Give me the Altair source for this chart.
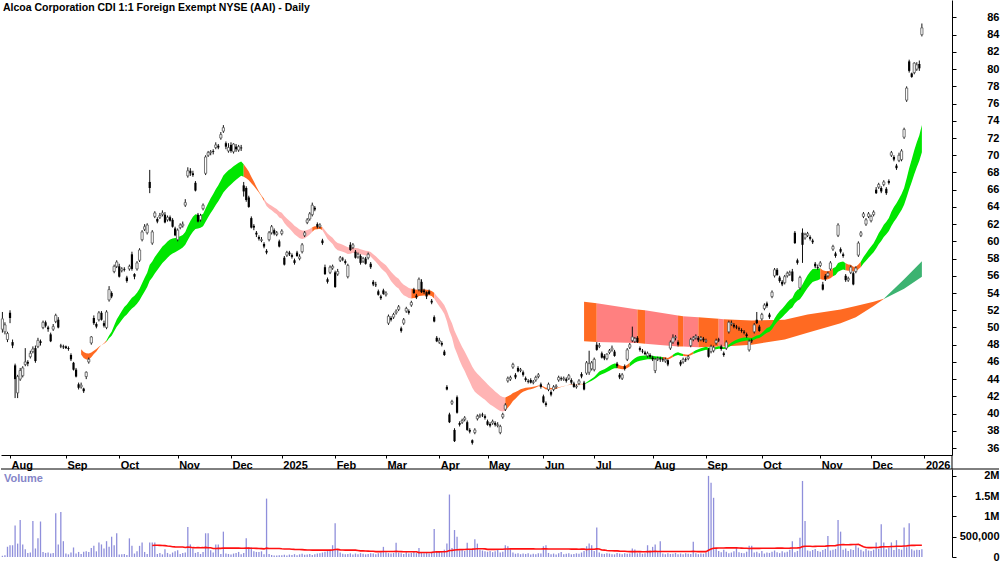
import altair as alt
import pandas as pd
import numpy as np

# ---------------- daily bars (open, high, low, close) per month ----------------
jul24 = [(49.8,51.8,49.4,51.0),(49.5,50.6,49.2,50.3),(48.6,49.5,48.3,49.3)]
aug24 = [(51.7,52.0,50.5,51.1),(48.3,48.6,47.6,47.9),(45.6,45.8,41.8,44.0),(42.4,44.5,41.8,44.3),
         (44.0,45.3,43.8,45.0),(44.4,45.5,44.2,45.3),(45.7,47.6,45.5,46.0),(46.0,46.2,45.5,45.8),
         (46.6,47.3,46.4,47.0),(47.2,47.8,47.0,47.5),(47.6,47.9,45.9,46.1),(47.8,48.8,47.6,48.5),
         (48.4,48.6,47.9,48.2),(50.0,50.8,49.8,50.6),(50.6,50.8,50.0,50.2),(50.0,50.2,49.5,49.8),
         (49.2,49.4,48.3,48.4),(49.8,50.4,49.6,50.1),(50.7,51.6,50.5,51.4),(50.9,51.2,49.9,50.0),
         (47.9,48.1,47.6,47.8),(47.8,48.0,47.5,47.7)]
sep24 = [(47.8,47.9,47.5,47.6),(47.6,47.8,47.3,47.5),(46.8,47.0,46.1,46.3),(45.9,46.0,45.0,45.1),
         (45.1,45.3,44.2,44.3),(43.4,43.6,42.8,43.0),(43.1,43.6,42.9,43.3),(42.9,43.0,42.4,42.6),
         (44.3,44.9,44.0,44.8),(46.0,46.5,45.8,46.3),(48.2,49.0,48.0,48.9),(51.1,51.4,50.3,50.5),
         (50.4,50.6,49.9,50.1),(50.9,51.9,50.7,51.7),(51.7,51.9,50.8,50.9),(50.5,50.8,50.0,50.2),
         (50.0,52.0,49.8,51.8),(53.2,54.8,53.0,54.4),(54.0,54.2,53.4,53.6),(56.5,57.3,56.3,57.1),
         (57.1,57.8,56.9,57.6)]
oct24 = [(57.1,57.4,55.8,55.9),(56.6,57.0,56.4,56.8),(56.8,57.0,56.5,56.7),(55.8,56.0,55.2,55.4),
         (56.8,57.3,56.6,57.1),(58.5,58.8,56.6,56.8),(56.2,56.3,55.6,55.9),(56.8,57.7,56.6,57.5),
         (57.8,59.2,57.6,59.0),(60.2,61.3,60.0,61.1),(61.4,62.0,61.2,61.7),(61.0,62.1,60.8,61.9),
         (66.9,68.3,65.6,66.2),(59.8,61.3,59.6,61.1),(62.9,63.5,62.7,63.3),(62.6,62.8,62.1,62.3),
         (62.8,63.3,62.6,63.0),(63.1,63.6,62.9,63.3),(63.1,63.4,62.1,62.2),(62.5,63.0,62.3,62.8),
         (62.8,63.0,62.3,62.4),(62.5,62.7,61.6,61.7),(61.5,61.7,60.6,60.7)]
nov24 = [(60.2,61.5,60.0,61.3),(61.6,62.1,61.4,61.9),(61.8,62.3,61.6,62.0),(64.2,64.9,64.0,64.5),
         (67.6,68.6,67.4,68.2),(68.2,68.5,67.6,67.9),(67.9,68.2,67.5,67.7),(66.8,67.0,65.8,65.9),
         (63.1,63.3,62.2,62.3),(62.5,63.2,62.3,63.0),(63.8,64.4,63.6,64.2),(67.9,70.0,67.7,69.8),
         (70.0,70.5,69.8,70.3),(70.3,70.6,70.0,70.4),(70.5,70.7,70.1,70.4),(70.9,71.5,70.7,71.2),
         (71.1,71.3,70.7,70.9),(72.0,72.7,71.8,72.4),(72.8,73.5,72.6,73.2),(71.4,71.6,70.7,71.0),
         (70.5,71.4,70.3,70.9)]
dec24 = [(71.2,71.5,70.3,70.5),(70.4,71.4,70.2,71.3),(71.0,71.3,70.4,70.7),(70.6,71.2,70.4,71.0),
         (70.9,71.2,70.5,70.8),(66.5,66.9,65.2,65.8),(66.2,66.4,64.6,64.8),(65.1,65.3,63.9,64.0),
         (62.7,62.9,61.5,61.6),(61.8,62.0,61.3,61.6),(61.0,61.2,60.5,60.8),(60.5,60.7,60.1,60.3),
         (60.1,60.5,59.9,60.2),(59.7,59.9,59.2,59.4),(58.9,59.1,58.5,58.7),(60.2,61.2,60.0,61.0),
         (61.0,61.9,60.8,61.7),(61.3,61.5,60.7,60.9),(60.8,61.2,60.6,61.0),(60.0,60.2,59.3,59.4)]
jan25 = [(60.9,61.4,60.7,61.2),(58.1,58.3,57.2,57.3),(58.4,58.9,58.2,58.7),(58.7,58.9,58.3,58.5),
         (58.4,58.6,58.0,58.2),(57.8,58.0,57.3,57.5),(58.7,58.9,58.2,58.3),(58.0,58.5,57.8,58.2),
         (58.8,59.8,58.6,59.6),(60.7,61.2,60.5,61.0),(62.2,62.7,62.0,62.5),(62.6,63.4,62.4,63.2),
         (63.1,64.5,62.9,64.2),(63.9,64.1,63.5,63.7),(62.0,62.2,61.5,61.7),(61.7,62.1,61.5,61.9),
         (60.1,60.3,59.6,59.8),(57.0,57.3,56.1,56.2),(55.6,55.8,55.1,55.3),(56.4,57.2,56.2,57.0),
         (56.9,57.3,56.7,57.1)]
feb25 = [(56.4,56.6,54.6,54.7),(56.2,56.8,56.0,56.5),(57.8,58.3,57.6,58.1),(58.0,58.2,57.7,57.9),
         (57.7,57.9,57.3,57.5),(55.9,57.4,55.7,57.2),(59.6,59.9,58.9,59.0),(59.3,59.8,59.1,59.6),
         (58.8,59.0,58.0,58.1),(58.2,58.7,58.0,58.5),(58.3,58.5,57.3,57.5),(57.7,58.2,57.5,58.0),
         (58.0,58.2,57.3,57.4),(58.1,58.7,57.9,58.5),(57.4,57.6,56.8,57.0),(55.3,55.5,54.8,55.0),
         (55.0,55.3,54.7,54.9),(54.2,54.4,53.7,53.8),(53.6,53.8,53.2,53.4),(54.3,54.5,53.8,53.9)]
mar25 = [(53.8,54.2,53.6,54.0),(50.5,51.5,50.3,51.3),(51.1,51.3,50.7,50.9),(51.2,51.7,51.0,51.5),
         (51.7,52.1,51.5,51.9),(52.1,52.6,51.9,52.4),(49.9,50.1,49.4,49.6),(50.5,51.1,50.3,50.9),
         (51.9,52.4,51.7,52.2),(51.9,52.1,51.5,51.7),(52.6,53.1,52.4,52.9),(54.4,54.6,53.9,54.0),
         (53.7,53.9,53.3,53.5),(54.4,55.8,54.2,55.6),(55.3,55.6,54.0,54.1),(54.3,54.5,53.9,54.1),
         (54.1,54.2,53.3,53.6),(54.2,54.4,53.8,53.9),(53.1,53.3,52.7,52.9),(51.2,51.4,50.6,50.7),
         (48.8,49.0,48.3,48.4)]
apr25 = [(48.3,48.8,48.1,48.5),(48.2,48.4,47.8,48.0),(47.2,47.4,46.7,46.8),(43.1,43.3,42.7,42.8),
         (39.9,40.1,38.9,39.0),(41.2,41.6,41.0,41.4),(38.1,38.3,36.7,36.8),(41.9,42.1,40.0,40.1),
         (38.9,39.1,38.5,38.7),(39.0,39.4,38.8,39.2),(39.3,39.7,39.1,39.5),(39.0,39.2,38.0,38.1),
         (38.1,38.3,37.7,37.9),(36.9,37.0,36.4,36.6),(37.8,38.3,37.6,38.1),(39.4,39.9,39.2,39.7),
         (39.7,40.0,39.5,39.8),(39.9,40.1,39.6,39.8),(39.7,39.9,39.3,39.5)]
may25 = [(39.1,39.3,38.6,38.7),(38.8,39.0,38.4,38.6),(38.9,39.3,38.7,39.1),(38.9,39.1,38.5,38.7),
         (38.6,39.0,38.4,38.7),(37.8,38.7,37.6,38.5),(39.6,40.1,39.4,39.9),(40.5,41.2,40.3,41.0),
         (43.8,44.3,43.6,44.1),(44.0,44.4,43.8,44.2),(45.4,45.9,45.2,45.7),(44.5,44.7,44.0,44.2),
         (45.3,45.5,44.8,44.9),(45.0,45.3,44.8,45.1),(44.8,45.0,44.3,44.5),(44.1,44.3,43.7,43.9),
         (43.8,44.0,43.5,43.7),(43.9,44.1,43.5,43.6),(43.6,43.9,43.4,43.7),(43.9,44.4,43.7,44.2),
         (44.3,44.7,44.1,44.5),(43.4,43.6,42.9,43.1)]
jun25 = [(42.0,42.2,41.2,41.3),(41.2,41.4,40.8,41.0),(42.8,43.6,42.6,43.4),(42.5,42.7,42.0,42.2),
         (42.8,43.3,42.6,43.1),(43.1,43.4,42.9,43.2),(43.9,44.4,43.7,44.2),(44.1,44.3,43.8,44.0),
         (44.0,44.3,43.8,44.1),(44.0,44.2,43.6,43.8),(44.1,44.6,43.9,44.4),(43.9,44.1,43.4,43.6),
         (43.5,43.7,43.0,43.1),(43.1,43.4,42.9,43.2),(43.5,44.0,43.3,43.8),(44.6,44.8,44.1,44.3),
         (43.6,43.8,42.7,42.8),(44.7,46.1,44.5,45.9),(44.8,47.3,44.5,45.8),(45.2,46.1,45.0,45.9)]
jul25 = [(45.1,46.5,44.9,46.3),(48.0,48.3,47.3,47.4),(47.8,48.2,47.6,47.9),(47.0,47.2,46.4,46.5),
         (46.7,46.9,46.2,46.4),(46.4,47.0,46.2,46.9),(47.1,47.5,46.9,47.3),(47.4,47.9,47.2,47.6),
         (47.2,47.4,46.6,46.7),(45.8,46.0,45.3,45.5),(44.5,44.7,44.0,44.2),(44.1,44.7,43.9,44.5),
         (45.5,45.7,45.0,45.2),(46.3,47.6,46.1,47.4),(47.7,48.2,47.5,48.0),(48.5,50.1,48.3,48.9),
         (48.4,48.9,48.2,48.7),(48.8,49.0,48.2,48.3),(47.6,47.8,47.2,47.4),(47.3,47.5,47.0,47.2),
         (47.1,47.3,46.8,46.9),(46.7,47.2,46.5,47.0),(46.8,47.0,46.4,46.6)]
aug25 = [(46.5,46.7,46.1,46.3),(45.0,46.5,44.7,46.3),(46.3,46.6,46.1,46.4),(46.4,46.6,46.0,46.3),
         (46.3,46.5,46.0,46.2),(46.1,46.5,45.9,46.3),(46.2,46.3,45.5,45.7),(47.6,48.5,47.4,48.3),
         (48.3,49.2,48.1,48.8),(48.8,49.1,48.5,48.9),(48.3,48.5,47.8,48.0),(46.0,46.2,45.5,45.7),
         (46.0,46.5,45.8,46.3),(46.3,46.5,46.0,46.2),(46.4,46.8,46.2,46.6),(47.9,48.8,47.7,48.6),
         (48.6,49.0,48.4,48.8),(48.8,49.2,48.6,49.0),(48.8,49.0,48.3,48.5),(48.6,49.0,48.4,48.8),
         (48.7,48.9,48.3,48.5)]
sep25 = [(48.4,48.7,48.2,48.5),(47.4,47.6,46.5,46.6),(47.2,48.0,47.0,47.8),(47.3,47.9,47.1,47.7),
         (48.2,48.7,48.0,48.5),(48.6,48.8,48.3,48.5),(47.8,48.0,47.3,47.5),(47.0,47.2,46.6,46.8),
         (47.6,48.5,47.4,48.3),(49.5,50.8,49.3,50.6),(50.4,50.8,50.2,50.5),(50.3,50.5,49.9,50.1),
         (50.1,50.3,49.8,50.0),(49.9,50.1,49.6,49.8),(49.7,49.9,49.4,49.6),(49.5,49.7,49.2,49.4),
         (49.2,49.4,48.8,49.0),(47.4,48.6,47.2,48.4),(48.5,48.7,48.2,48.4),(49.5,50.5,49.3,50.3),
         (50.9,51.8,50.4,50.5),(50.1,50.3,49.5,49.6)]
oct25 = [(51.0,51.7,50.8,51.5),(52.2,52.8,52.0,52.6),(52.8,53.0,52.3,52.5),(51.5,51.7,51.0,51.2),
         (53.6,54.3,53.4,54.1),(56.0,56.9,55.8,56.7),(56.7,56.9,56.0,56.1),(55.8,56.0,55.2,55.4),
         (55.3,55.5,54.8,55.0),(55.2,56.1,55.0,55.9),(56.0,56.5,55.8,56.3),(56.2,56.6,56.0,56.4),
         (56.5,56.8,55.3,55.4),(61.0,61.2,59.7,59.8),(57.8,58.0,57.3,57.5),(54.6,56.0,54.4,55.8),
         (61.0,61.5,57.5,59.6),(60.4,61.0,60.2,60.8),(60.7,61.1,60.5,60.9),(60.5,60.7,60.1,60.3),
         (60.1,60.3,59.7,59.9),(57.4,57.6,56.9,57.1),(57.0,57.3,56.7,56.9)]
nov25 = [(57.2,57.7,57.0,57.5),(55.0,55.3,54.3,54.4),(56.0,56.2,55.4,55.6),(56.0,56.5,55.8,56.3),
         (56.8,57.7,56.6,57.5),(59.1,59.6,58.9,59.4),(58.6,58.8,58.1,58.3),(60.7,62.1,60.5,61.9),
         (59.1,59.3,58.6,58.8),(58.5,58.7,58.1,58.3),(56.0,56.2,55.3,55.5),(55.5,55.9,55.3,55.7),
         (56.4,57.2,56.2,57.0),(56.3,56.5,54.9,55.0),(56.5,57.1,56.3,56.9),(58.4,60.0,58.2,59.8),
         (60.7,61.2,60.5,61.0),(62.9,63.4,62.7,63.2),(62.0,62.7,61.8,62.5),(62.9,63.4,62.7,63.2)]
dec25 = [(62.4,63.1,62.2,62.9),(63.1,63.6,62.9,63.4),(66.0,66.3,65.5,65.6),(66.3,66.8,66.1,66.6),
         (66.2,66.4,65.6,65.8),(66.6,67.1,66.4,66.9),(66.1,66.3,65.4,65.6),(67.0,67.2,66.6,66.8),
         (70.0,70.5,69.8,70.3),(69.8,70.0,69.3,69.5),(68.8,69.0,68.3,68.5),(69.4,70.3,69.2,70.0),
         (69.5,70.7,69.3,70.5),(72.1,73.2,71.9,73.0),(76.4,78.0,76.2,77.8),(80.9,81.1,79.6,79.8),
         (79.5,79.6,79.0,79.1),(79.6,80.8,79.4,80.7),(80.0,80.8,79.8,80.5),(80.6,81.0,79.8,80.1),
         (84.0,85.3,83.8,84.8)]

# ---------------- daily volume (thousands) per month ----------------
vol_jul24 = [30, 45, 250]
vol_aug24 = [290, 290, 775, 330, 915, 310, 190, 100, 110, 890, 210, 460, 875, 125, 100, 110, 85, 100, 1080, 310, 1110, 390]
vol_sep24 = [85, 65, 110, 235, 85, 125, 75, 130, 140, 125, 225, 275, 140, 360, 310, 210, 390, 250, 500, 290, 585]
vol_oct24 = [60, 65, 75, 50, 460, 275, 85, 140, 275, 360, 125, 75, 360, 360, 360, 75, 100, 65, 190, 100, 65, 110, 140]
vol_nov24 = [165, 75, 100, 110, 740, 310, 210, 100, 125, 75, 125, 585, 585, 165, 110, 310, 310, 75, 625, 85, 75]
vol_dec24 = [60, 85, 100, 125, 65, 100, 460, 235, 235, 140, 125, 125, 140, 65, 1440, 75, 50, 40, 35, 45]
vol_jan25 = [45, 55, 40, 60, 50, 70, 45, 65, 80, 55, 60, 75, 50, 65, 85, 90, 110, 130, 145, 180, 290]
vol_feb25 = [830, 190, 110, 80, 65, 75, 90, 60, 85, 70, 95, 80, 65, 75, 90, 85, 70, 95, 110, 250]
vol_mar25 = [120, 95, 85, 100, 350, 110, 90, 75, 120, 85, 100, 130, 95, 225, 110, 90, 105, 85, 120, 690, 150]
vol_apr25 = [150, 130, 180, 330, 1540, 225, 665, 500, 160, 190, 150, 350, 200, 170, 440, 330, 180, 160, 140]
vol_may25 = [130, 150, 120, 140, 170, 110, 130, 290, 265, 190, 110, 80, 90, 70, 85, 75, 95, 60, 80, 70, 90, 85]
vol_jun25 = [265, 290, 100, 70, 85, 60, 90, 125, 70, 80, 95, 65, 75, 90, 80, 110, 150, 265, 330, 290]
vol_jul25 = [150, 725, 110, 80, 75, 90, 85, 70, 65, 100, 85, 70, 95, 80, 85, 210, 185, 90, 110, 80, 95, 290, 160]
vol_aug25 = [250, 310, 120, 390, 85, 70, 90, 75, 80, 100, 65, 85, 70, 90, 80, 75, 375, 95, 70, 85, 80]
vol_sep25 = [110, 2000, 1830, 1460, 210, 150, 120, 180, 130, 95, 110, 140, 225, 120, 100, 90, 130, 275, 275, 110, 130, 90]
vol_oct25 = [150, 85, 110, 100, 130, 160, 120, 95, 140, 110, 130, 180, 390, 120, 150, 475, 1875, 890, 160, 140, 170, 200, 150]
vol_nov25 = [130, 170, 200, 515, 160, 180, 200, 915, 625, 180, 210, 150, 190, 170, 290, 230, 180, 140, 200, 160]
vol_dec25 = [150, 180, 360, 200, 810, 360, 190, 230, 360, 170, 415, 200, 180, 725, 240, 830, 190, 160, 180, 170, 190]

# month labels placed at the first bar of each month (and 2026 at the end)
month_labels = ["Aug", "Sep", "Oct", "Nov", "Dec", "2025", "Feb", "Mar", "Apr", "May",
                "Jun", "Jul", "Aug", "Sep", "Oct", "Nov", "Dec", "2026"]

ribbon_start = [31, 41, 95, 103, 122, 126, 161, 170, 198, 229, 242, 247, 260, 264, 268, 272, 322, 327, 332, 338]
ribbon_state = ["mixed", "up", "mixed", "down", "mixed", "down", "mixed", "down", "mixed", "up",
                "mixed", "up", "mixed", "up", "mixed", "up", "mixed", "up", "mixed", "up"]

# long-term band edges (bar index, faster line, slower line)
cloud_idx  = [229, 234, 250, 253, 266, 268, 274, 282, 284, 295, 308, 317, 330, 336, 343, 347, 355, 362]
cloud_fast = [48.4, 48.3, 48.2, 48.1, 47.8, 47.8, 47.7, 47.8, 47.8, 48.0, 48.6, 49.4, 50.5, 51.2, 52.5, 53.3, 55.6, 57.7]
cloud_slow = [53.0, 52.8, 52.1, 52.0, 51.4, 51.3, 51.2, 51.0, 50.95, 50.8, 50.9, 51.5, 52.1, 52.5, 53.0, 53.35, 54.5, 55.9]
cloud_seg_start = [229, 234, 250, 253, 266, 268, 274, 282, 284, 347]
cloud_seg_end   = [234, 250, 253, 266, 268, 274, 282, 284, 347, 362]
cloud_seg_state = ["c_mixed", "c_down", "c_mixed", "c_down", "c_mixed", "c_down", "c_mixed", "c_down", "c_mixed", "c_up"]

# ---------------- build tables ----------------
months = [jul24, aug24, sep24, oct24, nov24, dec24, jan25, feb25, mar25, apr25, may25, jun25,
          jul25, aug25, sep25, oct25, nov25, dec25]
vols = [vol_jul24, vol_aug24, vol_sep24, vol_oct24, vol_nov24, vol_dec24, vol_jan25, vol_feb25,
        vol_mar25, vol_apr25, vol_may25, vol_jun25, vol_jul25, vol_aug25, vol_sep25, vol_oct25,
        vol_nov25, vol_dec25]

bars = [b for m in months for b in m]
vol_all = [v for m in vols for v in m]
n = len(bars)
df = pd.DataFrame(bars, columns=["o", "h", "l", "c"])
df["i"] = np.arange(n)
df["vol"] = np.array(vol_all[:n], dtype=float) * 1000
df["lo"] = df[["o", "c"]].min(axis=1)
df["hi"] = df[["o", "c"]].max(axis=1)
df["dir"] = np.where(df["c"] >= df["o"], "up", "down")
df["vma"] = df["vol"].rolling(60).mean()

tick_vals = [int(v) for v in np.cumsum([len(m) for m in months])]
label_expr = "''"
for v, lab in reversed(list(zip(tick_vals, month_labels))):
    label_expr = f"datum.value == {v} ? '{lab}' : ({label_expr})"

# trend ribbon from exponential averages of the closes
fast = df["c"].ewm(span=20, adjust=False).mean()
slow = df["c"].ewm(span=30, adjust=False).mean()
rows = []
for k, s in enumerate(ribbon_start):
    e = ribbon_start[k + 1] if k + 1 < len(ribbon_start) else n - 1
    for i in range(s, e + 1):
        rows.append({"i": i, "lo": min(fast[i], slow[i]), "hi": max(fast[i], slow[i]),
                     "seg": f"r{k}", "state": ribbon_state[k]})
ribbon = pd.DataFrame(rows)

crow = []
for k, (s, e) in enumerate(zip(cloud_seg_start, cloud_seg_end)):
    for idx, a, b in zip(cloud_idx, cloud_fast, cloud_slow):
        if s <= idx <= e:
            crow.append({"i": idx, "lo": min(a, b), "hi": max(a, b), "seg": f"c{k}",
                         "state": cloud_seg_state[k]})
cloud = pd.DataFrame(crow)

FONT = "Liberation Sans, Arial, sans-serif"
W = 951
xscale = alt.Scale(domain=[-0.551, 373.86], nice=False, zero=False, padding=0)
pscale = alt.Scale(domain=[35.19, 88.03], nice=False, zero=False, padding=0)
cscale = alt.Scale(domain=["up", "mixed", "down", "c_up", "c_mixed", "c_down"],
                   range=["#00e600", "#ff6a22", "#ffb4b4", "#3cb371", "#ff6a22", "#ff8080"])

xaxis = alt.Axis(values=tick_vals, labelExpr=label_expr, tickSize=3, labelAlign="left",
                 labelBaseline="top", labelPadding=1, labelOffset=1, title=None,
                 labelOverlap=False, labelFlush=False, grid=False, labelFont=FONT,
                 labelFontSize=11, labelFontWeight="bold", labelColor="black")
yaxis = alt.Axis(orient="right", values=list(range(36, 88, 2)), tickSize=4, labelAlign="right",
                 labelPadding=43, title=None, grid=False, labelFlush=False, labelOverlap=False,
                 labelFont=FONT, labelFontSize=11, labelFontWeight="bold", labelColor="black",
                 labelBaseline="middle")

X = alt.X("i:Q", scale=xscale, axis=xaxis)

def Y(field):
    return alt.Y(field, scale=pscale, axis=yaxis)

cloud_layer = alt.Chart(cloud).mark_area(opacity=1).encode(
    x=X, y=Y("lo:Q"), y2="hi:Q",
    color=alt.Color("state:N", scale=cscale, legend=None), detail="seg:N")
ribbon_layer = alt.Chart(ribbon).mark_area(opacity=1).encode(
    x=X, y=Y("lo:Q"), y2="hi:Q",
    color=alt.Color("state:N", scale=cscale, legend=None), detail="seg:N")
wicks = alt.Chart(df).mark_rule(color="#111", strokeWidth=1).encode(x=X, y=Y("l:Q"), y2="h:Q")
down_bodies = alt.Chart(df).transform_filter("datum.dir == 'down'").mark_bar(
    width=2.2, color="black").encode(x=X, y=Y("lo:Q"), y2="hi:Q")
up_bodies = alt.Chart(df).transform_filter("datum.dir == 'up'").mark_bar(
    width=2.2, fill="white", stroke="#555", strokeWidth=0.8).encode(x=X, y=Y("lo:Q"), y2="hi:Q")
title_text = alt.Chart(pd.DataFrame({"t": ["Alcoa Corporation CDI 1:1 Foreign Exempt NYSE (AAI) - Daily"]})).mark_text(
    align="left", baseline="top", font=FONT, fontSize=10.5, fontWeight="bold", color="black").encode(
    text="t:N", x=alt.value(2), y=alt.value(3))
axis_ext = alt.Chart(pd.DataFrame({"a": [0]})).mark_rule(color="black", strokeWidth=1).encode(
    x=alt.value(W), y=alt.value(455), y2=alt.value(469))

price = alt.layer(cloud_layer, ribbon_layer, wicks, down_bodies, up_bodies, title_text, axis_ext
                  ).properties(width=W, height=455)

vscale = alt.Scale(domain=[0, 2170000], nice=False, zero=True, padding=0)
vaxis = alt.Axis(orient="right", values=[0, 500000, 1000000, 1500000, 2000000],
                 labelExpr="datum.value == 0 ? '0' : datum.value == 500000 ? '500,000' : (datum.value / 1000000) + 'M'",
                 tickSize=4, labelAlign="right", labelPadding=43, title=None, grid=False,
                 labelFlush=False, labelOverlap=False, labelFont=FONT, labelFontSize=11,
                 labelFontWeight="bold", labelColor="black", labelBaseline="middle")
vxaxis = alt.Axis(orient="top", labels=False, ticks=False, domain=False, title=None, grid=False)
VX = alt.X("i:Q", scale=xscale, axis=vxaxis)
vol_bars = alt.Chart(df).mark_bar(width=1.3, color="#8f8fdb").encode(
    x=VX, y=alt.Y("vol:Q", scale=vscale, axis=vaxis))
vol_ma = alt.Chart(df[df["i"] >= 59]).mark_line(color="#ff1010", strokeWidth=1.6).encode(
    x=VX, y=alt.Y("vma:Q", scale=vscale, axis=vaxis))
vol_label = alt.Chart(pd.DataFrame({"t": ["Volume"]})).mark_text(
    align="left", baseline="top", font=FONT, fontSize=11, fontWeight="bold", color="#8585c8").encode(
    text="t:N", x=alt.value(3), y=alt.value(4))
top_line = alt.Chart(pd.DataFrame({"a": [0]})).mark_rule(color="black", strokeWidth=1).encode(
    x=alt.value(0), x2=alt.value(998), y=alt.value(0))

volume = alt.layer(vol_bars, vol_ma, vol_label, top_line).properties(width=W, height=88)

chart = alt.vconcat(price, volume, spacing=14, bounds="flush",
                    padding={"left": 0, "top": 0, "right": 0, "bottom": 4}).configure_view(
    stroke=None).configure_axis(
    domainColor="black", tickColor="black", domainWidth=1, tickWidth=1)

chart.save("out.html", embed_options={"renderer": "svg", "actions": False})
